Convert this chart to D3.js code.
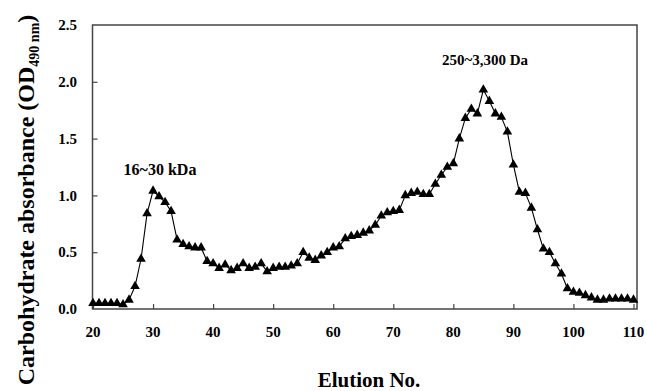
<!DOCTYPE html>
<html>
<head>
<meta charset="utf-8">
<script src="https://cdn.jsdelivr.net/npm/d3@7"></script>
<style>
  html, body { margin: 0; padding: 0; background: #fff; }
  svg { display: block; }
  text { font-family: "Liberation Serif", "Times New Roman", serif; font-weight: bold; fill: #000; }
</style>
</head>
<body>
<svg id="chart" width="647" height="391"></svg>
<script>
// ---- data ----
const elutionNo = d3.range(20, 111); // 20..110
const absorbance = [
  0.05, 0.05, 0.05, 0.05, 0.05, 0.04, 0.08, 0.20, 0.44, 0.84, // 20-29
  1.04, 0.99, 0.94, 0.86, 0.61, 0.57, 0.55, 0.54, 0.54, 0.42, // 30-39
  0.40, 0.36, 0.39, 0.34, 0.36, 0.40, 0.36, 0.37, 0.40, 0.33, // 40-49
  0.36, 0.37, 0.37, 0.38, 0.40, 0.50, 0.45, 0.43, 0.47, 0.50, // 50-59
  0.54, 0.55, 0.62, 0.64, 0.65, 0.67, 0.69, 0.74, 0.82, 0.85, // 60-69
  0.86, 0.87, 1.00, 1.02, 1.03, 1.01, 1.01, 1.10, 1.18, 1.25, // 70-79
  1.28, 1.50, 1.68, 1.76, 1.72, 1.93, 1.83, 1.72, 1.69, 1.56, // 80-89
  1.27, 1.03, 1.02, 0.89, 0.70, 0.53, 0.50, 0.40, 0.31, 0.18, // 90-99
  0.15, 0.14, 0.12, 0.10, 0.08, 0.08, 0.09, 0.09, 0.09, 0.09, // 100-109
  0.08                                                         // 110
];
const xTicks = [20, 30, 40, 50, 60, 70, 80, 90, 100, 110];
const yTicks = [0.0, 0.5, 1.0, 1.5, 2.0, 2.5];
const annotationLabels = ["16~30 kDa", "250~3,300 Da"];
const xTitle = "Elution No.";
const yTitleMain = "Carbohydrate absorbance (OD";
const yTitleSub = "490 nm";
const yTitleEnd = ")";

// ---- layout ----
const svg = d3.select("#chart");
const mLeft = 92.5, mRight = 637, mTop = 25, mBottom = 309;
const x = d3.scaleLinear().domain([20, 110]).range([93, 633.5]);
const y = d3.scaleLinear().domain([0, 2.5]).range([mBottom, mTop]);

// frame
svg.append("rect")
  .attr("x", mLeft).attr("y", mTop)
  .attr("width", mRight - mLeft).attr("height", mBottom - mTop)
  .attr("fill", "none").attr("stroke", "#444").attr("stroke-width", 1.5);

// x axis ticks (inside, pointing up)
const gx = svg.append("g").attr("transform", `translate(0,${mBottom})`);
gx.call(d3.axisBottom(x).tickValues(xTicks).tickSize(-5).tickPadding(0).tickFormat(""));
gx.select(".domain").remove();
gx.selectAll(".tick line").attr("stroke", "#444").attr("stroke-width", 1.2);
svg.append("g").selectAll("text.xt").data(xTicks).join("text")
  .attr("class", "xt")
  .attr("x", d => x(d)).attr("y", 337)
  .attr("text-anchor", "middle")
  .style("font-size", "15px")
  .text(d => d3.format("d")(d));

// y axis ticks (inside, pointing right)
const gy = svg.append("g").attr("transform", `translate(${mLeft},0)`);
gy.call(d3.axisLeft(y).tickValues(yTicks.slice(1, -1)).tickSize(-5).tickPadding(0).tickFormat(""));
gy.select(".domain").remove();
gy.selectAll(".tick line").attr("stroke", "#444").attr("stroke-width", 1.2);
svg.append("g").selectAll("text.yt").data(yTicks).join("text")
  .attr("class", "yt")
  .attr("x", 77).attr("y", d => y(d))
  .attr("dy", "0.35em")
  .attr("text-anchor", "end")
  .style("font-size", "15px")
  .text(d => d3.format(".1f")(d));

// data line
const pts = elutionNo.map((n, i) => ({ n, v: absorbance[i] }));
svg.append("path")
  .datum(pts)
  .attr("fill", "none").attr("stroke", "#000").attr("stroke-width", 1.1)
  .attr("d", d3.line().x(d => x(d.n)).y(d => y(d.v)));

// triangle markers
const tri = d3.symbol().type(d3.symbolTriangle).size(40);
svg.append("g").selectAll("path").data(pts).join("path")
  .attr("transform", d => `translate(${x(d.n)},${y(d.v)})`)
  .attr("d", tri)
  .attr("fill", "#000");

// annotations
svg.append("text").attr("x", 160).attr("y", 175).attr("text-anchor", "middle")
  .style("font-size", "16px").text(annotationLabels[0]);
svg.append("text").attr("x", 485).attr("y", 65).attr("text-anchor", "middle")
  .style("font-size", "15px").text(annotationLabels[1]);

// axis titles
svg.append("text").attr("x", 369).attr("y", 387).attr("text-anchor", "middle")
  .style("font-size", "21px").text(xTitle);

const yt = svg.append("text")
  .attr("transform", "translate(34,200) rotate(-90)")
  .attr("text-anchor", "middle")
  .style("font-size", "24px");
yt.append("tspan").text(yTitleMain);
yt.append("tspan").attr("dy", 5).style("font-size", "14px").text(yTitleSub);
yt.append("tspan").attr("dy", -5).text(yTitleEnd);
</script>
</body>
</html>
